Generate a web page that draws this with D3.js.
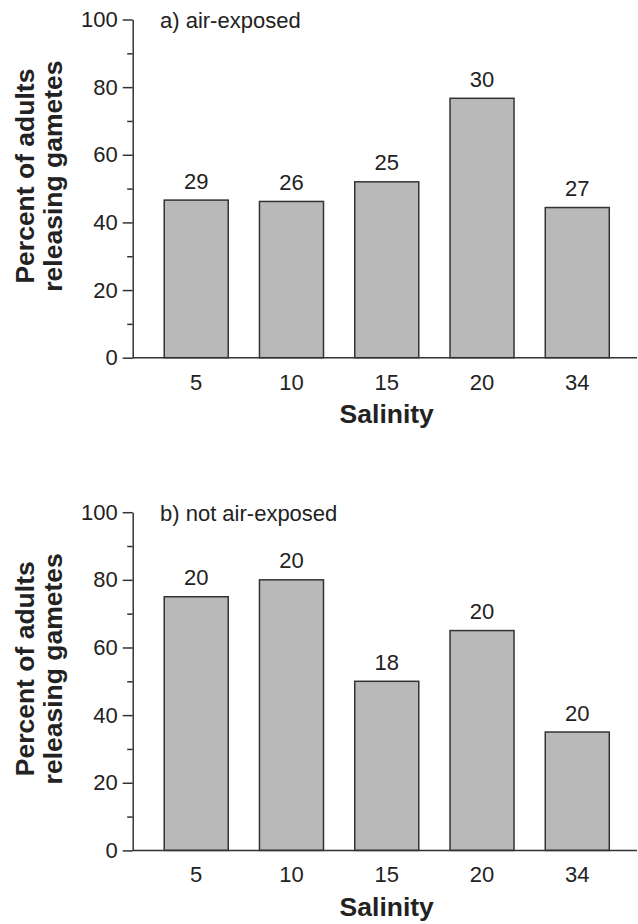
<!DOCTYPE html>
<html>
<head>
<meta charset="utf-8">
<script src="https://cdn.jsdelivr.net/npm/d3@7"></script>
<style>
  html, body { margin: 0; padding: 0; background: #fff; }
  svg { display: block; }
  text { font-family: "Liberation Sans", Arial, sans-serif; fill: #222; }
</style>
</head>
<body>
<svg id="chart" width="638" height="924"></svg>
<script>
// ---- data ----
const categories = ["5", "10", "15", "20", "34"];
const airExposed = [46.6, 46.2, 52.0, 76.7, 44.4];
const airExposedN = ["29", "26", "25", "30", "27"];
const notAirExposed = [75, 80, 50, 65, 35];
const notAirExposedN = ["20", "20", "18", "20", "20"];
const yMajorTicks = [0, 20, 40, 60, 80, 100];
const yMinorTicks = [10, 30, 50, 70, 90];
const panelTitles = ["a) air-exposed", "b) not air-exposed"];
const xTitle = "Salinity";
const yTitle = ["Percent of adults", "releasing gametes"];

// ---- layout ----
const svg = d3.select("#chart");
const axisX = 132.7;
const axisRight = 637;
const panels = [
  { top: 19.5, bottom: 357.7, values: airExposed, ns: airExposedN, title: panelTitles[0] },
  { top: 512.2, bottom: 850.4, values: notAirExposed, ns: notAirExposedN, title: panelTitles[1] }
];
const ink = "#333";

const x = d3.scaleBand()
  .domain(categories)
  .range([148.6, 624.9])
  .paddingInner(0.328)
  .paddingOuter(0.164);

panels.forEach(p => {
  const g = svg.append("g");
  const y = d3.scaleLinear().domain([0, 100]).range([p.bottom, p.top]);

  // bars
  g.selectAll("rect.bar").data(p.values).join("rect")
    .attr("class", "bar")
    .attr("x", (d, i) => x(categories[i]))
    .attr("width", x.bandwidth())
    .attr("y", d => y(d))
    .attr("height", d => y(0) - y(d))
    .attr("fill", "#b9b9b9")
    .attr("stroke", ink)
    .attr("stroke-width", 1.5);

  // value labels (n)
  g.selectAll("text.n").data(p.values).join("text")
    .attr("class", "n")
    .attr("x", (d, i) => x(categories[i]) + x.bandwidth() / 2)
    .attr("y", d => y(d) - 11.5)
    .attr("text-anchor", "middle")
    .attr("font-size", 22)
    .text((d, i) => p.ns[i]);

  // y axis (major)
  const yAxis = d3.axisLeft(y).tickValues(yMajorTicks).tickSize(10).tickPadding(5).tickSizeOuter(0);
  const ga = g.append("g").attr("transform", `translate(${axisX},0)`).call(yAxis);
  ga.select(".domain").attr("stroke", ink).attr("stroke-width", 1.5);
  ga.selectAll(".tick line").attr("stroke", ink).attr("stroke-width", 1.5);
  ga.selectAll(".tick text").attr("font-size", 22).attr("fill", "#222")
    .attr("font-family", "Liberation Sans, Arial, sans-serif");

  // minor ticks
  const yMinor = d3.axisLeft(y).tickValues(yMinorTicks).tickSize(5.5).tickFormat("").tickSizeOuter(0);
  const gm = g.append("g").attr("transform", `translate(${axisX},0)`).call(yMinor);
  gm.select(".domain").remove();
  gm.selectAll(".tick line").attr("stroke", ink).attr("stroke-width", 1.5);

  // x axis baseline with category labels (no tick marks)
  const xAxis = d3.axisBottom(x).tickSize(0).tickPadding(16.4).tickSizeOuter(0);
  const gx = g.append("g").attr("transform", `translate(0,${y(0)})`).call(xAxis);
  gx.select(".domain").remove();
  gx.selectAll(".tick text").attr("font-size", 22).attr("fill", "#222")
    .attr("font-family", "Liberation Sans, Arial, sans-serif");
  g.append("line")
    .attr("x1", axisX).attr("x2", axisRight)
    .attr("y1", y(0)).attr("y2", y(0))
    .attr("stroke", ink).attr("stroke-width", 1.5);

  // x title
  g.append("text")
    .attr("x", x("15") + x.bandwidth() / 2)
    .attr("y", y(0) + 65.6)
    .attr("text-anchor", "middle")
    .attr("font-size", 26.5)
    .attr("font-weight", "bold")
    .text(xTitle);

  // panel title
  g.append("text")
    .attr("x", 160)
    .attr("y", y(100) + 8.8)
    .attr("font-size", 22)
    .text(p.title);

  // y title (two lines)
  const cy = y(53.7);
  [33.5, 62].forEach((bx, i) => {
    g.append("text")
      .attr("transform", `translate(${bx},${cy}) rotate(-90)`)
      .attr("text-anchor", "middle")
      .attr("font-size", 26.5)
      .attr("font-weight", "bold")
      .text(yTitle[i]);
  });
});
</script>
</body>
</html>
